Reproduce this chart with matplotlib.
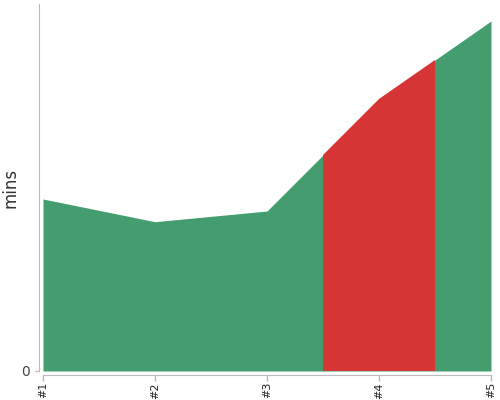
import matplotlib
matplotlib.use('Agg')
import matplotlib.pyplot as plt
import numpy as np

labels = ['#1', '#2', '#3', '#4', '#5']
mins = [17.2, 14.93, 16.0, 27.2, 35.0]
highlight = '#4'
green = '#449d6e'
red = '#d63535'

x = np.arange(len(labels))
fig = plt.figure(figsize=(5, 4), dpi=100)
ax = fig.add_axes([0.086, 0.0725, 0.896, 0.9175])

area = ax.fill_between(x, 0, mins, color=green, linewidth=0)
h = labels.index(highlight)
span = ax.axvspan(h - 0.5, h + 0.5, color=red, linewidth=0)
# keep the red band inside the area shape
span.set_clip_path(area.get_paths()[0], ax.transData)

ax.set_xlim(0, len(labels) - 1)
ax.set_ylim(0, 36.7)
ax.set_xticks(x)
ax.set_xticklabels(labels)
ax.set_yticks([0])
ax.set_yticklabels(['0'])
ax.set_ylabel('mins', fontsize=12, color='#333333')
ax.yaxis.set_label_coords(-0.052, 0.5)

for s in ['top', 'right']:
    ax.spines[s].set_visible(False)
for s in ['left', 'bottom']:
    ax.spines[s].set_position(('outward', 3))
    ax.spines[s].set_color('#bbbbbb')
ax.tick_params(axis='both', colors='#bbbbbb', length=4, width=1)
ax.tick_params(axis='x', labelcolor='#222222', labelsize=8, labelrotation=90, pad=1)
ax.tick_params(axis='y', labelcolor='#444444', labelsize=10, length=3)

fig.savefig('out.png', dpi=100)
